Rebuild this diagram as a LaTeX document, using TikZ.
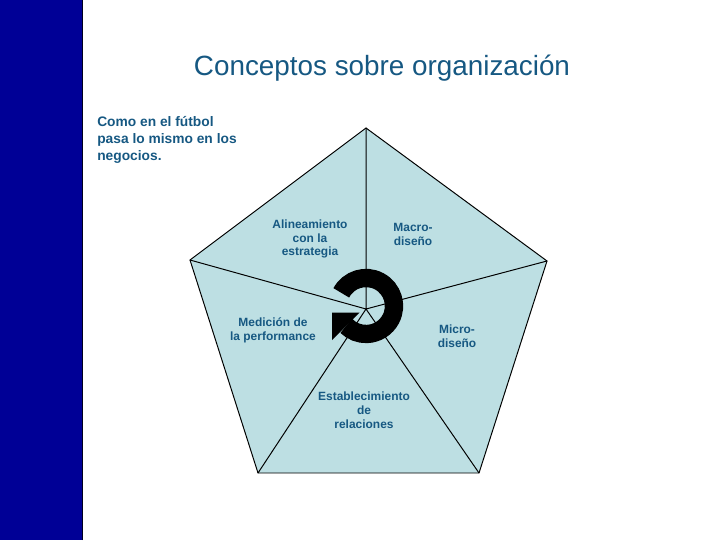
\documentclass[tikz,border=0pt]{standalone}
\usepackage{fontspec}
\setmainfont{Liberation Sans}
\definecolor{barblue}{RGB}{0,0,150}
\definecolor{pentfill}{RGB}{189,223,227}
\definecolor{textblue}{RGB}{22,88,130}
\begin{document}
\begin{tikzpicture}[x=0.025cm,y=0.025cm,
    sector/.style={text=textblue,font=\bfseries\fontsize{8.5}{9.9}\selectfont,align=center}]

    % Fix the size of the page
    \useasboundingbox (0,0) rectangle (720,540);

    % Blue bar along the left edge
    \fill[barblue] (0,0) rectangle (83,540);
    \draw[black!80!barblue] (82.5,0) -- (82.5,540);

    % Title and the remark at the top left
    \node[text=textblue,font=\fontsize{19.8}{24}\selectfont] (title) at (382,472) {Conceptos sobre organización};
    \node[text=textblue,font=\bfseries\fontsize{9.8}{12}\selectfont,align=left,anchor=west,inner sep=0pt] (remark) at (97,400) {Como en el fútbol\\pasa lo mismo en los\\negocios.};

    % Define the corners of the pentagon and its centre
    \coordinate (T) at (366,412);
    \coordinate (R) at (547,279);
    \coordinate (BR) at (479,67);
    \coordinate (BL) at (258,67);
    \coordinate (L) at (190,280);
    \coordinate (O) at (366,231);

    % Draw the pentagon and the spokes from the centre
    \draw[fill=pentfill,line width=0.7pt] (T) -- (R) -- (BR) -- (BL) -- (L) -- cycle;
    \draw[line width=0.7pt] (O) -- (T) (O) -- (R) (O) -- (BR) (O) -- (BL) (O) -- (L);

    % Thick circular arrow in the middle
    \coordinate (C) at (366,234);
    \draw[line width=13pt] (C) ++(152:28) arc (152:-135:28);
    \fill (359.5,227.5) -- (332,227.5) -- (332,200) -- cycle;

    % Labels of the five sectors
    \node[sector] (align) at (310,301) {Alineamiento\\con la\\estrategia};
    \node[sector] (macro) at (413,305.5) {Macro-\\diseño};
    \node[sector] (micro) at (457,204) {Micro-\\diseño};
    \node[sector] (measure) at (273,209.5) {Medición de\\la performance};
    \node[sector] (links) at (364,130) {Establecimiento\\de\\relaciones};

\end{tikzpicture}
\end{document}
